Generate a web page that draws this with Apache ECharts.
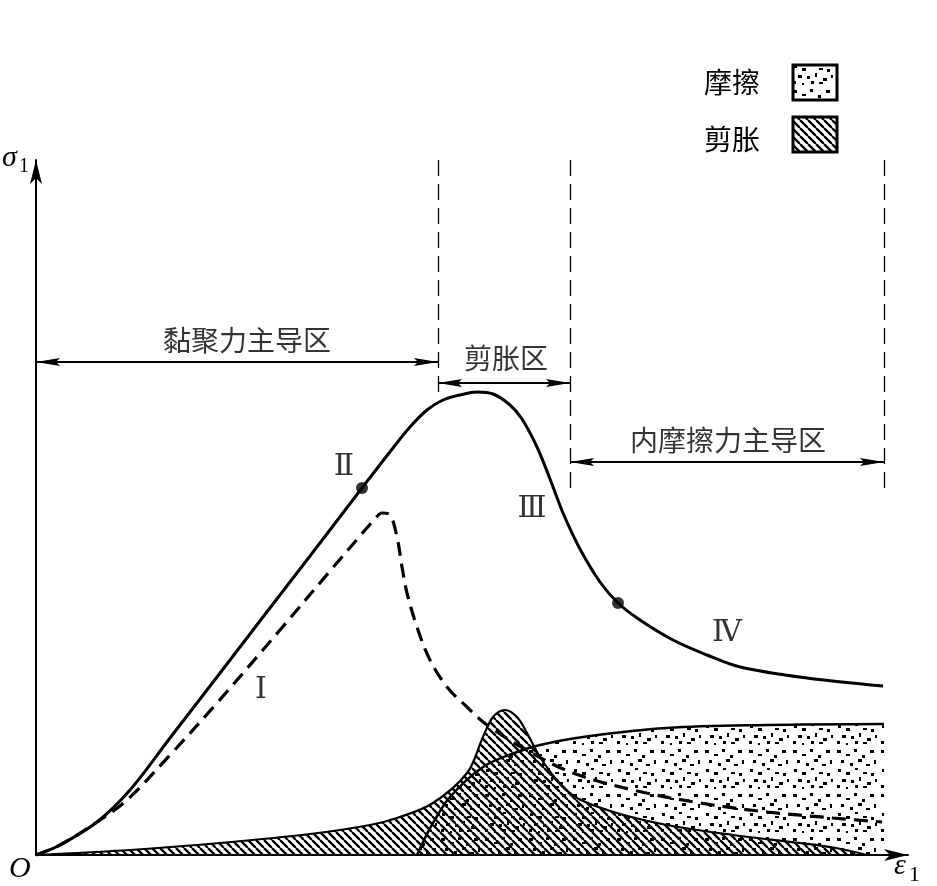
<!DOCTYPE html>
<html>
<head>
<meta charset="utf-8">
<style>
  html, body { margin: 0; padding: 0; background: #fff; }
  #chart { width: 937px; height: 886px; }
</style>
<script src="https://cdn.jsdelivr.net/npm/echarts@6/dist/echarts.min.js"></script>
</head>
<body>
<div id="chart"></div>
<script>
  // 坐标单位：ε1 / σ1 示意量（无刻度）
  const stressCurve = [[0, 0], [24, 10], [61, 33], [94, 65], [134, 117], [181, 178], [227, 238], [274, 299],
    [326, 367], [357, 407], [374, 428], [391, 445], [407, 455], [424, 460], [441, 463], [457, 461],
    [474, 450], [486, 436], [501, 408], [514, 376], [527, 342], [544, 306], [564, 273], [582, 252],
    [604, 235], [637, 215], [671, 200], [704, 188], [771, 177], [847, 169]];
  // 黏聚力（虚线）
  const cohesionCurve = [[0, 0], [24, 10], [61, 33], [91, 55], [134, 100], [181, 152], [244, 225], [294, 284],
    [324, 319], [338, 335], [346, 342], [354, 340], [361, 318], [366, 288], [371, 262], [381, 228],
    [394, 195], [411, 168], [431, 148], [451, 130], [494, 103], [537, 82], [597, 65], [664, 52],
    [731, 43], [797, 37], [846, 33]];
  // 剪胀
  const dilationBand = [[0, 0], [94, 5], [184, 12], [274, 21], [334, 30], [364, 38], [397, 52], [431, 82],
    [447, 118], [457, 138], [469, 145], [481, 138], [491, 122], [504, 98], [521, 75], [541, 57],
    [581, 42], [631, 30], [697, 20], [764, 12], [800, 7], [831, 0]];
  // 摩擦
  const frictionBand = [[381, 0], [389, 17], [397, 32], [414, 58], [447, 88], [481, 103], [504, 110],
    [547, 118], [631, 127], [731, 130], [848, 131]];
  const stageDots = [[326, 367], [582, 252]];
  const zoneEdges = [402, 534, 848];
  const zoneNames = ['黏聚力主导区', '剪胀区', '内摩擦力主导区'];
  const stageNames = ['Ⅰ', 'Ⅱ', 'Ⅲ', 'Ⅳ'];
  const stageLabelPos = [[225, 165], [308, 388], [496, 346], [691, 222]];
  const legendNames = ['摩擦', '剪胀'];

  const CJK = '"Noto Sans CJK SC", sans-serif';
  const SERIF = '"Liberation Serif", "DejaVu Serif", serif';
  // 细长箭头，尖端在符号中心
  const ARROW = 'path://M0,0 L4,24 L0,20 L-4,24 Z M-24,-24 M24,24';

  // 斜线填充
  function hatchPattern() {
    const c = document.createElement('canvas');
    c.width = 8; c.height = 8;
    const g = c.getContext('2d');
    g.strokeStyle = '#000';
    g.lineWidth = 2.3;
    [-8, 0, 8].forEach(function (k) {
      g.beginPath();
      g.moveTo(k, 0);
      g.lineTo(k + 8, 8);
      g.stroke();
    });
    return { image: c, repeat: 'repeat' };
  }

  // 砂点填充
  const specks = [[1, 2, 4, 3], [10, 6, 4, 2], [18, 1, 3, 3], [26, 7, 3, 3], [34, 2, 4, 3],
    [5, 12, 3, 3], [14, 15, 3, 3], [22, 11, 4, 3], [30, 16, 4, 2], [38, 12, 2, 4],
    [2, 21, 3, 3], [10, 24, 4, 3], [19, 20, 3, 2], [27, 24, 4, 2], [35, 25, 3, 3],
    [6, 31, 4, 3], [15, 32, 3, 3], [23, 29, 2, 4], [31, 34, 4, 3], [39, 31, 2, 3],
    [1, 37, 3, 3], [19, 37, 3, 3], [27, 38, 4, 2], [10, 39, 2, 2]];
  function speckPattern() {
    const c = document.createElement('canvas');
    c.width = 44; c.height = 44;
    const g = c.getContext('2d');
    g.fillStyle = '#000';
    specks.forEach(function (s) { g.fillRect(s[0], s[1], s[2], s[3]); });
    return { image: c, repeat: 'repeat' };
  }

  const hatch = hatchPattern();
  const speck = speckPattern();

  const chart = echarts.init(document.getElementById('chart'), null, { renderer: 'canvas' });

  const dividerLines = zoneEdges.map(function (x, i) {
    const bottom = i === 0 ? 462 : 360;
    return [{ coord: [x, 695] }, { coord: [x, bottom] }];
  });
  const zoneArrows = [
    [{ coord: [0, 493] }, { coord: [zoneEdges[0], 493] }],
    [{ coord: [zoneEdges[0], 472] }, { coord: [zoneEdges[1], 472] }],
    [{ coord: [zoneEdges[1], 393] }, { coord: [zoneEdges[2], 393] }]
  ];
  const zoneLabelPos = [[211, 515], [470, 497], [692, 415]];

  const curveBase = { type: 'line', smooth: 0.35, symbol: 'none', silent: true };

  chart.setOption({
    animation: false,
    backgroundColor: '#fff',
    grid: { left: 36, right: 29, top: 160, bottom: 31 },
    xAxis: {
      type: 'value', min: 0, max: 872,
      axisLine: { show: true, symbol: ['none', 'arrow'], symbolSize: [9, 24], lineStyle: { color: '#000', width: 2 } },
      axisTick: { show: false }, axisLabel: { show: false }, splitLine: { show: false }
    },
    yAxis: {
      type: 'value', min: 0, max: 695,
      axisLine: { show: true, symbol: ['none', 'arrow'], symbolSize: [9, 24], lineStyle: { color: '#000', width: 2 } },
      axisTick: { show: false }, axisLabel: { show: false }, splitLine: { show: false }
    },
    series: [
      Object.assign({}, curveBase, {
        name: '摩擦', data: frictionBand, z: 1,
        lineStyle: { color: '#000', width: 2.5 },
        areaStyle: { color: speck, opacity: 1 }
      }),
      Object.assign({}, curveBase, {
        name: '剪胀', data: dilationBand, z: 2,
        lineStyle: { color: '#000', width: 2.2 },
        areaStyle: { color: hatch, opacity: 1 }
      }),
      Object.assign({}, curveBase, {
        name: 'cohesion', data: cohesionCurve, z: 3,
        lineStyle: { color: '#000', width: 3.2, type: [14, 8] }
      }),
      Object.assign({}, curveBase, {
        name: 'stress', data: stressCurve, z: 4,
        lineStyle: { color: '#000', width: 3 }
      }),
      {
        type: 'scatter', data: stageDots, symbolSize: 12, z: 5, silent: true,
        itemStyle: { color: '#000' }
      },
      {
        type: 'scatter', symbolSize: 0, z: 6, silent: true,
        data: stageNames.map(function (n, i) { return { name: n, value: stageLabelPos[i] }; }),
        label: { show: true, position: 'inside', formatter: '{b}', color: '#000', fontSize: 30, fontFamily: SERIF }
      },
      {
        type: 'scatter', symbolSize: 0, z: 6, silent: true,
        data: zoneNames.map(function (n, i) { return { name: n, value: zoneLabelPos[i] }; }),
        label: { show: true, position: 'inside', formatter: '{b}', color: '#000', fontSize: 28, fontFamily: CJK }
      },
      {
        type: 'line', data: [], z: 6,
        markLine: {
          silent: true, symbol: 'none', label: { show: false },
          lineStyle: { color: '#000', width: 1.3, type: [16, 8] },
          data: dividerLines
        }
      },
      {
        type: 'line', data: [], z: 6,
        markLine: {
          silent: true, symbol: [ARROW, ARROW], symbolSize: 48, label: { show: false },
          lineStyle: { color: '#000', width: 1.8, type: 'solid' },
          itemStyle: { color: '#000' },
          data: zoneArrows
        }
      }
    ],
    graphic: [
      { type: 'text', x: 2, y: 158, style: { text: 'σ', font: 'italic 30px ' + SERIF, fill: '#000', textVerticalAlign: 'middle' } },
      { type: 'text', x: 19, y: 167, style: { text: '1', font: '20px ' + SERIF, fill: '#000', textVerticalAlign: 'middle' } },
      { type: 'text', x: 9, y: 869, style: { text: 'O', font: 'italic 30px ' + SERIF, fill: '#000', textVerticalAlign: 'middle' } },
      { type: 'text', x: 894, y: 866, style: { text: 'ε', font: 'italic 30px ' + SERIF, fill: '#000', textVerticalAlign: 'middle' } },
      { type: 'text', x: 909, y: 875, style: { text: '1', font: '22px ' + SERIF, fill: '#000', textVerticalAlign: 'middle' } },
      { type: 'text', x: 732, y: 82, style: { text: legendNames[0], font: '28px ' + CJK, fill: '#000', textAlign: 'center', textVerticalAlign: 'middle' } },
      { type: 'text', x: 732, y: 139, style: { text: legendNames[1], font: '28px ' + CJK, fill: '#000', textAlign: 'center', textVerticalAlign: 'middle' } },
      { type: 'rect', shape: { x: 793, y: 65, width: 44, height: 35 }, style: { fill: speck, stroke: '#000', lineWidth: 3 } },
      { type: 'rect', shape: { x: 793, y: 117, width: 44, height: 35 }, style: { fill: hatch, stroke: '#000', lineWidth: 3 } }
    ]
  });
</script>
</body>
</html>
